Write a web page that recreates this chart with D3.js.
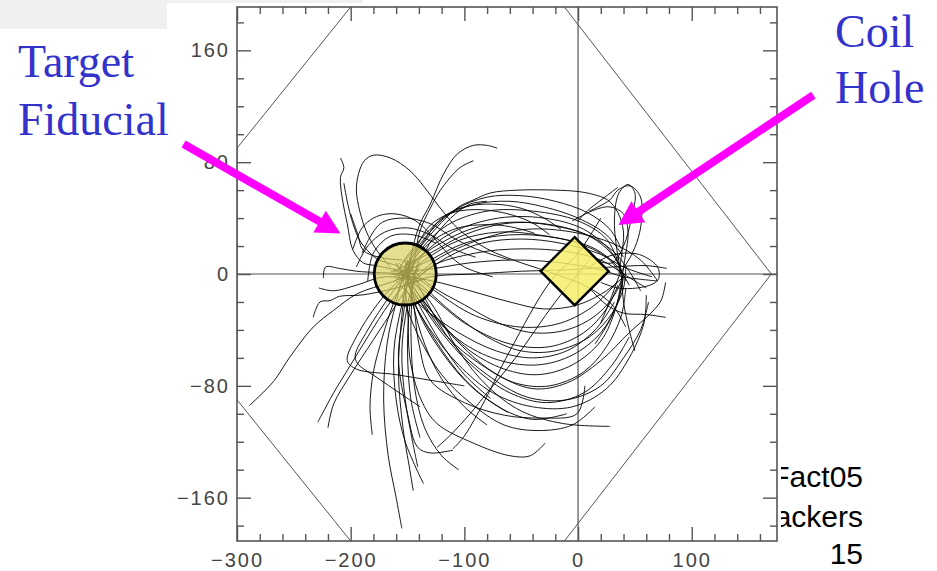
<!DOCTYPE html>
<html><head><meta charset="utf-8">
<script src="https://cdn.jsdelivr.net/npm/d3@7"></script>
<style>html,body{margin:0;padding:0;background:#fff;} svg{display:block;}</style>
</head><body>
<svg id="chart" width="937" height="571"></svg>
<script>
// ---- data (cm) ----
const xDomain = [-300, 175];
const yDomain = [-191, 191];
const xMajor = [-300, -200, -100, 0, 100];
const xMajorLabels = ["−300", "−200", "−100", "0", "100"];
const xMinor = [-280, -260, -240, -220, -180, -160, -140, -120, -80, -60, -40, -20, 20, 40, 60, 80, 120, 140, 160];
const yMajor = [-160, -80, 0, 80, 160];
const yMajorLabels = ["−160", "−80", "0", "80", "160"];
const yMinor = [-180, -140, -120, -100, -60, -40, -20, 20, 40, 60, 100, 120, 140, 180];

// magnet boundary outline
const boundaryLeft = [[-200, 191], [-300, 90], [-300, -90], [-200, -191]];
const boundaryRight = [[-12, 191], [170, 0], [-12, -191]];

// fiducial target and coil hole
const targetCentre = [-152, 0];
const coilCentre = [-3, 2];

// particle tracks, grouped by where they head
const upperTracks = [
  [[-160,3],[-178,6],[-189,8],[-198,17],[-203,36],[-207,52],[-209,69],[-206,76],[-209,83]],
  [[-158,6],[-175,10],[-183,15],[-192,24],[-198,36],[-202,48],[-206,65]],
  [[-155,10],[-175,12],[-189,17],[-194,29],[-200,43]],
  [[-165,5],[-178,18],[-186,30],[-192,45],[-195,60],[-193,72],[-188,81],[-180,85],[-165,83],[-148,74],[-135,62],[-122,48],[-105,32],[-80,18],[-50,8],[-20,0],[10,-10],[30,-22],[42,-38]],
  [[-198,18],[-190,33],[-180,40],[-168,43],[-154,42],[-141,37],[-128,27],[-115,15],[-100,5],[-75,-2]],
  [[-190,15],[-174,36],[-154,40],[-130,36],[-110,26],[-90,18],[-60,10]],
  [[-150,-8],[-148,5],[-145,20],[-139,36],[-130,50],[-118,72],[-106,86],[-92,92],[-80,92],[-71,90]],
  [[-156,-6],[-146,3],[-143,15],[-139,31],[-130,47],[-121,60],[-104,76],[-92,81]],
  [[-160,-4],[-140,18],[-120,37],[-105,48],[-92,53],[-77,58],[-53,60],[-20,60],[0,59],[13,57],[26,53],[35,44],[40,30],[38,12],[36,0]],
  [[-158,4],[-142,20],[-130,35],[-110,44],[-85,46],[-57,42],[-39,36],[-25,28]],
  [[-162,-6],[-140,12],[-110,30],[-70,40],[-30,40],[5,32],[30,15],[38,2]],
  [[-150,4],[-138,18],[-115,35],[-80,45],[-40,45],[0,38],[25,25],[37,5]],
  [[-160,0],[-135,8],[-100,22],[-60,28],[-20,26],[15,18],[35,5],[45,-8]],
  [[-148,-10],[-130,5],[-90,15],[-50,18],[-10,16],[20,10],[40,0],[60,-10]],
  [[-155,-2],[-140,15],[-120,28],[-100,34],[-70,35],[-50,32],[-38,29]],
  [[-165,2],[-135,3],[-95,8],[-55,10],[-15,8],[20,3],[40,-2],[70,-5]],
  [[-158,-10],[-130,-2],[-90,0],[-50,2],[-10,3],[30,5],[60,6],[78,4]],
  [[-145,-4],[-125,10],[-85,25],[-45,32],[-5,30],[30,22],[55,10],[70,-5]],
  [[-152,6],[-137,22],[-120,40],[-100,48],[-75,50],[-50,47],[-30,40],[-15,32]],
  [[-162,-2],[-140,10],[-128,25],[-112,40],[-95,50],[-80,52]],
  [[-195,5],[-185,20],[-170,30],[-150,33],[-130,28],[-110,18],[-90,12]],
  [[-185,-5],[-180,15],[-165,27],[-145,28],[-125,22]],
  [[-158,-4],[-135,10],[-105,24],[-70,30],[-35,28],[0,22],[25,12],[38,0]],
  [[-150,6],[-125,20],[-95,32],[-60,37],[-25,35],[10,27],[32,12],[42,-5]],
  [[-162,2],[-130,15],[-100,28],[-65,36],[-30,36],[5,29],[30,17],[45,2],[55,-12]],
  [[-145,-5],[-115,12],[-85,22],[-50,25],[-15,22],[20,14],[40,5],[65,-2]],
  [[-155,8],[-135,28],[-115,42],[-90,50],[-60,52],[-30,48],[0,40],[25,28],[40,12]],
  [[-148,12],[-128,32],[-108,46],[-80,55],[-50,56],[-20,52],[8,44],[28,32],[38,18]]
];

const coilTracks = [
  [[15,10],[30,8],[40,20],[47,40],[50,58],[44,64],[36,58],[32,40],[34,18],[38,0],[40,-20],[45,-40],[50,-55]],
  [[10,5],[28,13],[45,15],[57,13],[70,5],[71,-3],[66,-7],[52,-10],[35,-10],[20,-6]],
  [[10,-10],[25,-22],[40,-28],[60,-29],[77,-31]],
  [[10,45],[28,53],[35,60],[46,63],[55,55],[56,40],[53,26],[46,12],[37,0],[30,-15],[20,-35]],
  [[-5,38],[15,46],[28,48],[40,43],[44,29],[42,15],[40,5],[38,-10],[30,-30],[15,-50]],
  [[0,38],[8,45],[22,54],[35,62]],
  [[-140,-15],[-110,-45],[-75,-70],[-40,-82],[-10,-78],[20,-62],[45,-42],[64,-28],[73,-19],[77,-6]]
];

const lowerTracks = [
  [[-158,4],[-140,-15],[-120,-35],[-95,-55],[-65,-68],[-35,-72],[-5,-65],[20,-48],[33,-25],[38,-5]],
  [[-150,0],[-138,-18],[-115,-45],[-85,-65],[-55,-78],[-25,-80],[5,-70],[25,-52],[38,-30],[42,-10]],
  [[-160,6],[-135,-10],[-110,-28],[-80,-45],[-50,-55],[-20,-55],[10,-45],[30,-28],[40,-10],[42,5]],
  [[-152,8],[-130,-8],[-100,-22],[-70,-35],[-40,-42],[-10,-40],[15,-30],[32,-15],[40,0]],
  [[-155,2],[-130,-20],[-105,-55],[-80,-80],[-50,-98],[-13,-107],[28,-109]],
  [[-152,5],[-145,-20],[-140,-50],[-130,-76],[-100,-92],[-65,-101],[-33,-103],[-1,-100],[6,-80]],
  [[-156,6],[-150,-25],[-148,-60],[-138,-90],[-124,-107],[-92,-121],[-60,-130],[-42,-130],[-29,-121]],
  [[20,40],[0,15],[-24,-5],[-60,-55],[-85,-95],[-101,-117],[-110,-125]],
  [[10,10],[-20,-20],[-55,-60],[-80,-85],[-95,-100],[-112,-115],[-124,-124]],
  [[-160,8],[-140,-22],[-120,-50],[-100,-72],[-77,-89]],
  [[-150,10],[-142,-24],[-118,-58],[-92,-82],[-62,-99]],
  [[-162,4],[-132,-14],[-100,-35],[-60,-50],[-25,-52],[5,-42],[25,-25],[35,-8]],
  [[-165,0],[-128,-5],[-95,-12],[-60,-20],[-30,-25],[0,-22],[25,-12],[40,-2]],
  [[-158,8],[-126,-12],[-90,-30],[-50,-38],[-15,-35],[15,-22],[35,-5]],
  [[-148,6],[-133,-20],[-110,-50],[-80,-72],[-45,-88],[-10,-90],[20,-80],[40,-60],[55,-40],[62,-20]],
  [[-152,10],[-145,-22],[-135,-50],[-120,-75],[-100,-95],[-80,-108]],
  [[-150,-8],[-128,-30],[-100,-50],[-68,-62],[-35,-65],[-5,-58],[20,-42],[35,-20],[40,-2]],
  [[-160,-5],[-135,-25],[-105,-42],[-72,-55],[-40,-60],[-10,-55],[15,-40],[32,-20]],
  [[-145,-12],[-120,-42],[-90,-68],[-60,-85],[-28,-92],[5,-85],[30,-65],[45,-45]],
  [[-152,-10],[-130,-40],[-105,-65],[-75,-85],[-40,-95],[-5,-95],[25,-82],[45,-60],[58,-35],[60,-15]],
  [[-155,-15],[-140,-45],[-120,-72],[-95,-92],[-65,-108],[-35,-112],[-5,-108],[15,-95]],
  [[-148,-15],[-125,-48],[-100,-75],[-70,-95],[-40,-104],[-10,-100]]
];

const fanTracks = [
  [[-150,10],[-160,-20],[-168,-50],[-171,-90],[-167,-130],[-160,-160],[-155,-182]],
  [[-145,8],[-155,-22],[-162,-55],[-160,-90],[-152,-120],[-136,-150]],
  [[-140,10],[-150,-22],[-155,-55],[-152,-90],[-146,-118],[-141,-138]],
  [[-142,6],[-148,-22],[-150,-55],[-147,-90],[-139,-117]],
  [[-148,12],[-153,-25],[-158,-60],[-150,-100],[-141,-124],[-130,-128],[-110,-126]],
  [[-140,4],[-165,-20],[-185,-45],[-200,-65],[-215,-85],[-225,-100],[-229,-106]],
  [[-138,8],[-160,-22],[-180,-47],[-200,-72],[-215,-93],[-220,-110]],
  [[-140,2],[-165,-6],[-194,-14],[-215,-26],[-233,-38],[-254,-60],[-268,-77],[-289,-94]],
  [[-142,10],[-165,-15],[-185,-40],[-196,-58],[-194,-64],[-177,-74],[-139,-95]],
  [[-145,4],[-170,-15],[-195,-45],[-203,-62],[-195,-68],[-160,-72],[-130,-76],[-100,-80]],
  [[-136,-4],[-160,-10],[-190,-15],[-210,-16],[-218,-19],[-227,-20],[-233,-31]],
  [[-140,0],[-175,1],[-195,2],[-210,4],[-222,5],[-224,-3]],
  [[-146,12],[-162,-20],[-172,-45],[-180,-70],[-183,-95],[-181,-115]],
  [[-150,5],[-155,-30],[-158,-70],[-154,-110],[-148,-140],[-145,-155]],
  [[-145,-2],[-147,-40],[-144,-80],[-135,-110],[-120,-130],[-105,-140]],
  [[-140,-5],[-170,-2],[-195,-8],[-215,-12],[-228,-10]]
];

// callouts
const fiducialArrow = [[-347, 93], [-209, 29]];
const coilArrow = [[207, 128], [35.5, 35]];

// ---- drawing ----
const svg = d3.select("#chart");
const x = d3.scaleLinear().domain(xDomain).range([237, 777]);
const y = d3.scaleLinear().domain(yDomain).range([541, 7]);
const axisColour = "#555";

// slide furniture
svg.append("rect").attr("x", 0).attr("y", 0).attr("width", 167).attr("height", 29).attr("fill", "#f0f0f0");
svg.append("rect").attr("x", 167).attr("y", 0).attr("width", 196).attr("height", 3).attr("fill", "#f0f0f0");

const footer = svg.append("g").attr("font-family", "'Liberation Sans', Arial, sans-serif")
  .attr("font-size", 30).attr("text-anchor", "end").attr("fill", "#000");
footer.append("text").attr("x", 863).attr("y", 487).text("Fact05");
footer.append("text").attr("x", 863).attr("y", 527).text("ackers");
footer.append("text").attr("x", 863).attr("y", 564).text("15");

// plot area (the plot panel is slightly wider than its frame)
const [x0, x1] = x.range();
const [yb, yt] = y.range();
svg.append("rect").attr("x", x0 - 3).attr("y", yt).attr("width", x1 - x0 + 7).attr("height", yb - yt).attr("fill", "#fff");
svg.append("clipPath").attr("id", "plotClip").append("rect")
  .attr("x", x0).attr("y", yt).attr("width", x1 - x0).attr("height", yb - yt);
const plot = svg.append("g").attr("clip-path", "url(#plotClip)");

const line = d3.line().x(d => x(d[0])).y(d => y(d[1]));
plot.selectAll("path.boundary").data([boundaryLeft, boundaryRight]).join("path")
  .attr("class", "boundary").attr("d", line).attr("fill", "none").attr("stroke", "#555").attr("stroke-width", 1);

// zero lines
plot.append("line").attr("x1", x0).attr("x2", x1).attr("y1", y(0)).attr("y2", y(0)).attr("stroke", "#555").attr("stroke-width", 1.2);
plot.append("line").attr("x1", x(0)).attr("x2", x(0)).attr("y1", yt).attr("y2", yb).attr("stroke", "#555").attr("stroke-width", 1.2);

const trackLine = d3.line().x(d => x(d[0])).y(d => y(d[1])).curve(d3.curveCatmullRom.alpha(0.5));
const tracks = [].concat(upperTracks, coilTracks, lowerTracks, fanTracks);
plot.selectAll("path.track").data(tracks).join("path")
  .attr("class", "track").attr("d", trackLine).attr("fill", "none")
  .attr("stroke", "#000").attr("stroke-width", 1).attr("stroke-opacity", 0.9);

// target fiducial and coil hole
plot.append("circle").attr("cx", x(targetCentre[0])).attr("cy", y(targetCentre[1])).attr("r", 31)
  .attr("fill", "#d9d263").attr("fill-opacity", 0.7).attr("stroke", "#000").attr("stroke-width", 2.8);
const cx = x(coilCentre[0]), cy = y(coilCentre[1]), h = 34;
plot.append("path").attr("d", `M${cx},${cy - h}L${cx + h},${cy}L${cx},${cy + h}L${cx - h},${cy}Z`)
  .attr("fill", "#f6ef68").attr("fill-opacity", 0.85).attr("stroke", "#000").attr("stroke-width", 2.4);

// axes: ticks point inward on all four sides
function styleAxis(g) {
  g.select(".domain").remove();
  g.selectAll(".tick line").attr("stroke", axisColour).attr("stroke-width", 1.4);
  g.selectAll(".tick text").attr("fill", "#444").attr("font-size", 20)
    .attr("font-family", "'Liberation Sans', Arial, sans-serif").attr("letter-spacing", "2px");
}
const axes = svg.append("g");
axes.append("g").attr("transform", `translate(0,${yb})`)
  .call(d3.axisBottom(x).tickValues(xMajor).tickSize(-14).tickPadding(12).tickFormat((d, i) => xMajorLabels[i])).call(styleAxis);
axes.append("g").attr("transform", `translate(0,${yb})`)
  .call(d3.axisBottom(x).tickValues(xMinor).tickSize(-7).tickFormat("")).call(styleAxis);
axes.append("g").attr("transform", `translate(0,${yt})`)
  .call(d3.axisTop(x).tickValues(xMajor).tickSize(-14).tickFormat("")).call(styleAxis);
axes.append("g").attr("transform", `translate(0,${yt})`)
  .call(d3.axisTop(x).tickValues(xMinor).tickSize(-7).tickFormat("")).call(styleAxis);
axes.append("g").attr("transform", `translate(${x0},0)`)
  .call(d3.axisLeft(y).tickValues(yMajor).tickSize(-14).tickPadding(7).tickFormat((d, i) => yMajorLabels[i])).call(styleAxis);
axes.append("g").attr("transform", `translate(${x0},0)`)
  .call(d3.axisLeft(y).tickValues(yMinor).tickSize(-7).tickFormat("")).call(styleAxis);
axes.append("g").attr("transform", `translate(${x1},0)`)
  .call(d3.axisRight(y).tickValues(yMajor).tickSize(-14).tickFormat("")).call(styleAxis);
axes.append("g").attr("transform", `translate(${x1},0)`)
  .call(d3.axisRight(y).tickValues(yMinor).tickSize(-7).tickFormat("")).call(styleAxis);
axes.append("rect").attr("x", x0).attr("y", yt).attr("width", x1 - x0).attr("height", yb - yt)
  .attr("fill", "none").attr("stroke", axisColour).attr("stroke-width", 1.6);

// callout arrows
function drawArrow(a) {
  const p0 = [x(a[0][0]), y(a[0][1])], p1 = [x(a[1][0]), y(a[1][1])];
  const dx = p1[0] - p0[0], dy = p1[1] - p0[1], len = Math.hypot(dx, dy);
  const ux = dx / len, uy = dy / len, headLen = 24, headHalf = 12.5;
  const bx = p1[0] - ux * headLen, by = p1[1] - uy * headLen;
  svg.append("line").attr("x1", p0[0]).attr("y1", p0[1]).attr("x2", bx + ux).attr("y2", by + uy)
    .attr("stroke", "#ff00ff").attr("stroke-width", 8);
  svg.append("path").attr("fill", "#ff00ff")
    .attr("d", `M${p1[0]},${p1[1]}L${bx - uy * headHalf},${by + ux * headHalf}L${bx + uy * headHalf},${by - ux * headHalf}Z`);
}
drawArrow(fiducialArrow);
drawArrow(coilArrow);

// callout labels
const callouts = svg.append("g").attr("font-family", "'Liberation Serif', 'Times New Roman', serif")
  .attr("font-size", 46).attr("fill", "#3333cc");
callouts.append("text").attr("x", 18).attr("y", 77).text("Target");
callouts.append("text").attr("x", 18).attr("y", 135).text("Fiducial");
callouts.append("text").attr("x", 835).attr("y", 47).text("Coil");
callouts.append("text").attr("x", 835).attr("y", 103).text("Hole");
</script></body></html>
